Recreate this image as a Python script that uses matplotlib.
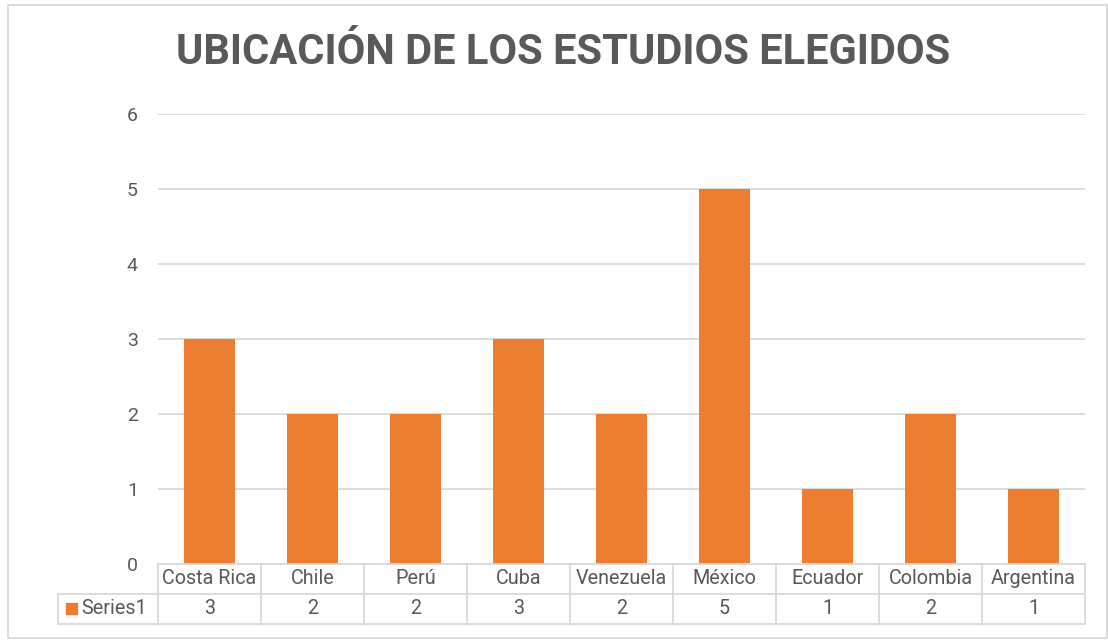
import matplotlib
matplotlib.use("Agg")
import matplotlib.pyplot as plt
from matplotlib.patches import Rectangle
from matplotlib.lines import Line2D
import matplotlib.transforms as mtransforms

categories = ["Costa Rica", "Chile", "Perú", "Cuba", "Venezuela", "México", "Ecuador", "Colombia", "Argentina"]
values = [3, 2, 2, 3, 2, 5, 1, 2, 1]
series_name = "Series1"
title = "UBICACIÓN DE LOS ESTUDIOS ELEGIDOS"
yticks = [0, 1, 2, 3, 4, 5, 6]

W, H = 1108, 642
BAR = "#ED7D31"
TXT = "#595959"
GRID = "#D9D9D9"

plt.rcParams['font.family'] = ['Roboto', 'DejaVu Sans']
fig = plt.figure(figsize=(W/100, H/100), dpi=100)

def fx(px): return px / W
def fy(py): return 1 - py / H

L, R, T, B = 158, 1085, 114, 564
ax = fig.add_axes([fx(L), fy(B), fx(R) - fx(L), fy(T) - fy(B)])
x = list(range(len(categories)))
ax.bar(x, values, width=0.5, color=BAR, zorder=3)
ax.set_xlim(-0.5, len(categories) - 0.5)
ax.set_ylim(0, 6)
ax.set_yticks(yticks)
ax.set_yticklabels([str(t) for t in yticks], color=TXT, fontsize=14)
ax.tick_params(axis='y', length=0, pad=14.5)
ax.set_xticks([])
for s in ax.spines.values():
    s.set_visible(False)
ax.grid(axis='y', color=GRID, linewidth=1.3, zorder=0)
ax.set_axisbelow(True)

# outer border
fig.add_artist(Rectangle((fx(8), fy(638)), fx(1107) - fx(8), fy(4.5) - fy(638),
                         transform=fig.transFigure, fill=False, edgecolor=GRID, linewidth=1.3))

# title
fig.text(fx(563), fy(53), title, ha='center', va='center', fontsize=30,
         fontweight='bold', color=TXT)

# data table
tr = mtransforms.blended_transform_factory(ax.transData, fig.transFigure)
row1_top, row1_bot, row2_bot = 564, 594, 624
lw = 1.3
fig.add_artist(Line2D([fx(L), fx(R)], [fy(row1_top)] * 2, transform=fig.transFigure, color=GRID, lw=lw))
fig.add_artist(Line2D([fx(58), fx(R)], [fy(row1_bot)] * 2, transform=fig.transFigure, color=GRID, lw=lw))
fig.add_artist(Line2D([fx(58), fx(R)], [fy(row2_bot)] * 2, transform=fig.transFigure, color=GRID, lw=lw))
fig.add_artist(Line2D([fx(58), fx(58)], [fy(row1_bot), fy(row2_bot)], transform=fig.transFigure, color=GRID, lw=lw))
for i in range(len(categories) + 1):
    fig.add_artist(Line2D([i - 0.5, i - 0.5], [fy(row1_top), fy(row2_bot)], transform=tr, color=GRID, lw=lw))
for i, (c, v) in enumerate(zip(categories, values)):
    fig.text(i, fy((row1_top + row1_bot) / 2), c, transform=tr, ha='center', va='center', fontsize=14.2, color=TXT)
    fig.text(i, fy((row1_bot + row2_bot) / 2), str(v), transform=tr, ha='center', va='center', fontsize=14.2, color=TXT)

fig.add_artist(Rectangle((fx(66), fy(614)), fx(77) - fx(66), fy(603) - fy(614),
                         transform=fig.transFigure, color=BAR))
fig.text(fx(81), fy(609), series_name, ha='left', va='center', fontsize=14.2, color=TXT)

fig.savefig("out.png", dpi=100)
